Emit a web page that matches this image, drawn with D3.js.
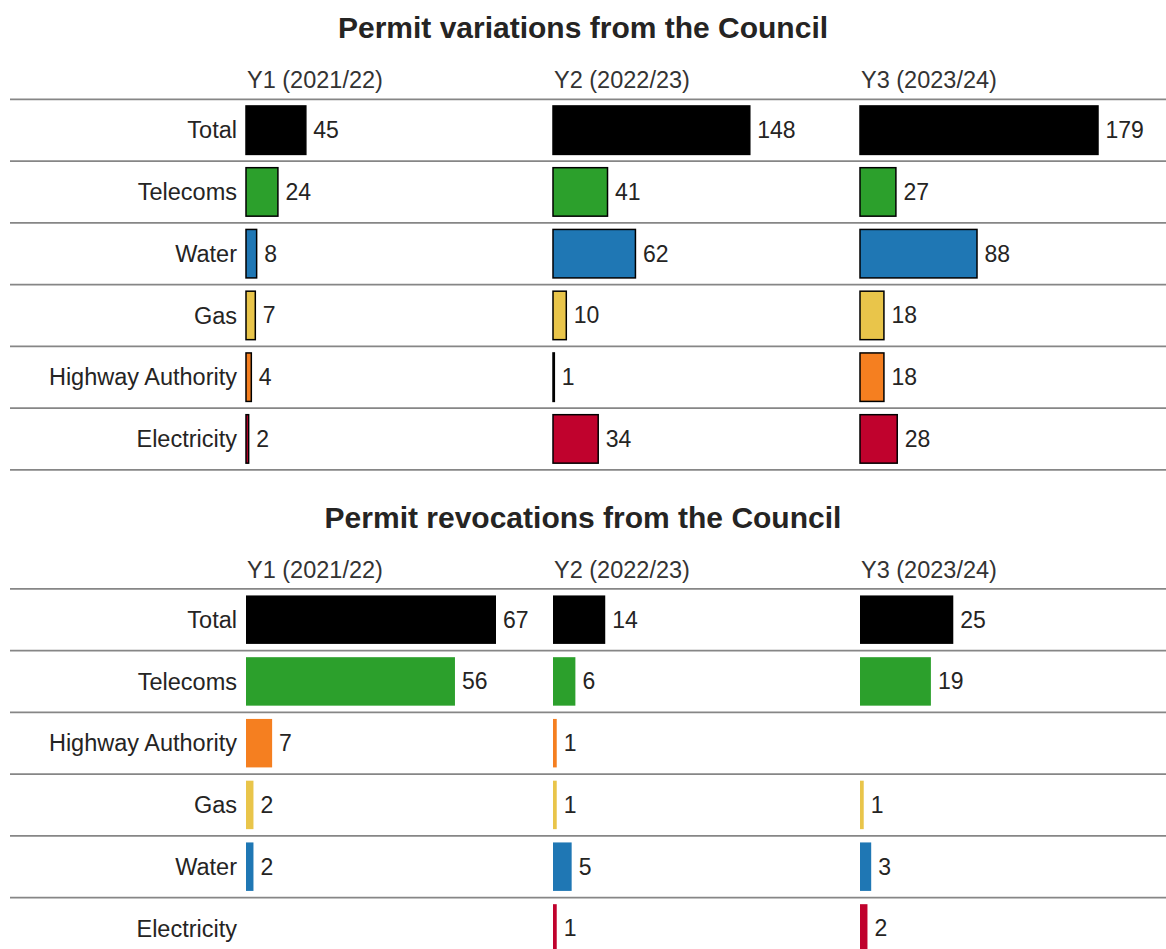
<!DOCTYPE html>
<html>
<head>
<meta charset="utf-8">
<script src="https://cdn.jsdelivr.net/npm/d3@7"></script>
<style>
  html, body { margin: 0; padding: 0; background: #fff; }
  svg { display: block; font-family: "Liberation Sans", Arial, sans-serif; }
</style>
</head>
<body>
<svg id="chart" width="1166" height="949"></svg>
<script>
// Financial years shown as columns
const years = ["Y1 (2021/22)", "Y2 (2022/23)", "Y3 (2023/24)"];

// Permit variations
const variationCategories = ["Total", "Telecoms", "Water", "Gas", "Highway Authority", "Electricity"];
const variationsY1 = [45, 24, 8, 7, 4, 2];
const variationsY2 = [148, 41, 62, 10, 1, 34];
const variationsY3 = [179, 27, 88, 18, 18, 28];

// Permit revocations (null = no revocations recorded)
const revocationCategories = ["Total", "Telecoms", "Highway Authority", "Gas", "Water", "Electricity"];
const revocationsY1 = [67, 56, 7, 2, 2, null];
const revocationsY2 = [14, 6, 1, 1, 5, 1];
const revocationsY3 = [25, 19, null, 1, 3, 2];

const colour = {
  "Total": "#000000",
  "Telecoms": "#2ca02c",
  "Water": "#1f77b4",
  "Gas": "#e9c54a",
  "Highway Authority": "#f57f20",
  "Electricity": "#c0022d"
};

const svg = d3.select("#chart");
const W = 1166;
const textCol = "#252423";

function drawPanel(opts) {
  const g = svg.append("g").attr("transform", `translate(0,${opts.top})`);
  const cats = opts.categories;
  const series = opts.series;

  g.append("text")
    .attr("x", W / 2).attr("y", 38)
    .attr("text-anchor", "middle")
    .attr("font-size", 30).attr("font-weight", "bold")
    .attr("fill", textCol)
    .text(opts.title);

  const col = d3.scaleBand().domain(years).range([246, 246 + 3 * 307]).padding(0);

  g.selectAll(".hdr").data(years).join("text")
    .attr("class", "hdr")
    .attr("x", d => col(d) + 1).attr("y", 88)
    .attr("font-size", 23.5).attr("fill", "#333")
    .text(d => d);

  const rowTop = 99.3, step = 61.75;
  const y = d3.scaleBand().domain(cats)
    .range([rowTop, rowTop + cats.length * step])
    .paddingInner(0.215).paddingOuter(0.1075);

  const allVals = series.flat().filter(v => v != null);
  const x = d3.scaleLinear().domain([0, d3.max(allVals)]).range([0, opts.maxWidth]);

  // row separators
  g.selectAll(".sep").data(d3.range(cats.length + 1)).join("line")
    .attr("class", "sep")
    .attr("x1", 10).attr("x2", W)
    .attr("y1", i => y.range()[0] + i * y.step())
    .attr("y2", i => y.range()[0] + i * y.step())
    .attr("stroke", "#868686").attr("stroke-width", 1.7);

  // category labels
  g.selectAll(".cat").data(cats).join("text")
    .attr("class", "cat")
    .attr("x", 237).attr("y", d => y(d) + y.bandwidth() / 2)
    .attr("dy", "0.35em")
    .attr("text-anchor", "end")
    .attr("font-size", 23.5).attr("fill", textCol)
    .text(d => d);

  years.forEach((yr, yi) => {
    const rows = cats.map((c, i) => ({ cat: c, value: series[yi][i] })).filter(d => d.value != null);
    const cg = g.append("g").attr("transform", `translate(${col(yr)},0)`);

    cg.selectAll("rect").data(rows).join("rect")
      .attr("x", 0)
      .attr("y", d => y(d.cat))
      .attr("width", d => x(d.value))
      .attr("height", y.bandwidth())
      .attr("fill", d => colour[d.cat])
      .attr("stroke", opts.outline ? "#000" : "none")
      .attr("stroke-width", opts.outline ? 1.5 : 0);

    cg.selectAll("text").data(rows).join("text")
      .attr("x", d => x(d.value) + (opts.outline ? 7.5 : 7))
      .attr("y", d => y(d.cat) + y.bandwidth() / 2)
      .attr("dy", "0.35em")
      .attr("font-size", 23).attr("fill", textCol)
      .text(d => d.value);
  });
}

drawPanel({
  top: 0,
  title: "Permit variations from the Council",
  categories: variationCategories,
  series: [variationsY1, variationsY2, variationsY3],
  outline: true,
  maxWidth: 238
});

drawPanel({
  top: 489.5,
  title: "Permit revocations from the Council",
  categories: revocationCategories,
  series: [revocationsY1, revocationsY2, revocationsY3],
  outline: false,
  maxWidth: 250
});
</script>
</body>
</html>
